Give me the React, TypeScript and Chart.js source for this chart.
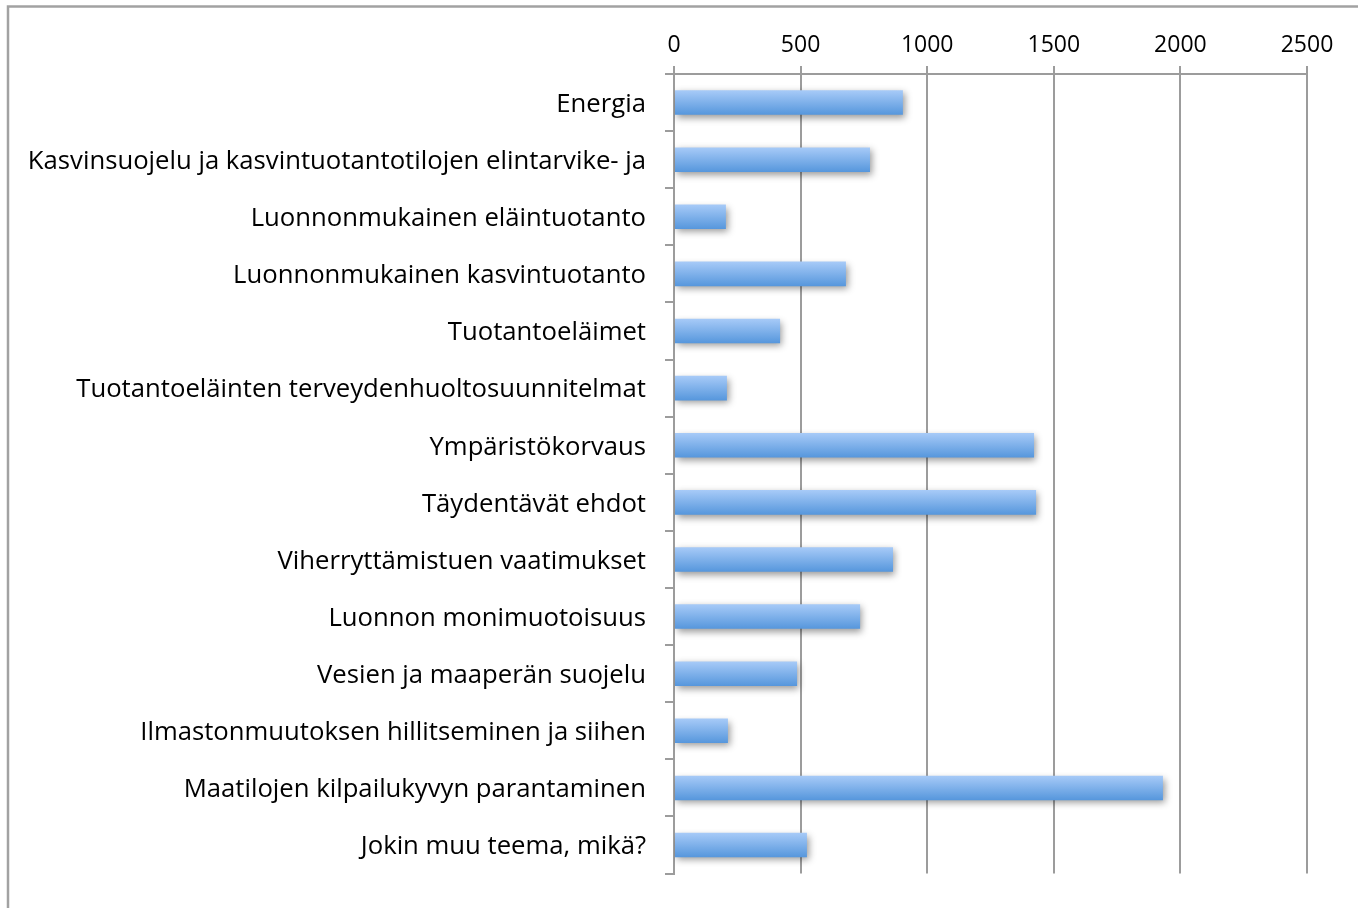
import React, { useEffect, useRef } from "react";
import { Chart, registerables } from "chart.js";

Chart.register(...registerables);

const categories: string[] = [
  "Energia",
  "Kasvinsuojelu ja kasvintuotantotilojen elintarvike- ja",
  "Luonnonmukainen eläintuotanto",
  "Luonnonmukainen kasvintuotanto",
  "Tuotantoeläimet",
  "Tuotantoeläinten terveydenhuoltosuunnitelmat",
  "Ympäristökorvaus",
  "Täydentävät ehdot",
  "Viherryttämistuen vaatimukset",
  "Luonnon monimuotoisuus",
  "Vesien ja maaperän suojelu",
  "Ilmastonmuutoksen hillitseminen ja siihen",
  "Maatilojen kilpailukyvyn parantaminen",
  "Jokin muu teema, mikä?",
];

const values: number[] = [904, 774, 205, 679, 419, 209, 1422, 1430, 865, 735, 486, 213, 1931, 525];

const xMin = 0;
const xMax = 2500;
const xStep = 500;

const FONT = "'Open Sans', 'DejaVu Sans', sans-serif";
const GRID = "#9c9c9c";

const framePlugin = {
  id: "frame",
  beforeDraw(chart: any) {
    const ctx = chart.ctx;
    ctx.save();
    ctx.strokeStyle = "#a2a2a2";
    ctx.lineWidth = 2.5;
    ctx.beginPath();
    ctx.moveTo(8, chart.height);
    ctx.lineTo(8, 6.5);
    ctx.lineTo(chart.width, 6.5);
    ctx.stroke();
    ctx.restore();
  },
};

const shadowPlugin = {
  id: "barShadow",
  beforeDatasetsDraw(chart: any) {
    const ctx = chart.ctx;
    ctx.save();
    ctx.shadowColor = "rgba(0,0,0,0.4)";
    ctx.shadowBlur = 7;
    ctx.shadowOffsetX = 2;
    ctx.shadowOffsetY = 3;
  },
  afterDatasetsDraw(chart: any) {
    chart.ctx.restore();
  },
};

export default function App() {
  const ref = useRef<HTMLCanvasElement | null>(null);

  useEffect(() => {
    const prevMargin = document.body.style.margin;
    document.body.style.margin = "0";
    const canvas = ref.current!;
    const chart = new Chart(canvas, {
      type: "bar",
      data: {
        labels: categories,
        datasets: [
          {
            data: values,
            borderWidth: 0,
            barPercentage: 0.43,
            categoryPercentage: 1,
            backgroundColor: (c: any) => {
              const ch = c.chart;
              const ys = ch.scales && ch.scales.y;
              if (!ys || c.dataIndex === undefined) return "#7fb2ee";
              const y = ys.getPixelForValue(c.dataIndex);
              if (!Number.isFinite(y)) return "#7fb2ee";
              const h = 12.5;
              const g = ch.ctx.createLinearGradient(0, y - h, 0, y + h);
              g.addColorStop(0, "#a8cbf8");
              g.addColorStop(1, "#5596dc");
              return g;
            },
          },
        ],
      },
      options: {
        indexAxis: "y",
        responsive: false,
        animation: false,
        layout: { padding: { left: 0, right: 51, top: 1, bottom: 29 } },
        plugins: {
          legend: { display: false },
          tooltip: { enabled: false },
        },
        scales: {
          x: {
            position: "top",
            min: xMin,
            max: xMax,
            ticks: {
              stepSize: xStep,
              color: "#000",
              padding: 7,
              font: { family: FONT, size: 23 },
              callback: (v: any) => String(v),
            },
            grid: {
              color: GRID,
              lineWidth: 2,
              drawTicks: true,
              tickLength: 8,
            },
            border: { display: true, color: GRID, width: 2 },
            afterFit: (s: any) => {
              s.height = 73;
            },
          },
          y: {
            ticks: {
              color: "#000",
              padding: 19,
              labelOffset: 2,
              font: { family: FONT, size: 25.7 },
              autoSkip: false,
            },
            grid: {
              offset: true,
              drawOnChartArea: false,
              drawTicks: true,
              tickLength: 9,
              color: GRID,
              lineWidth: 2,
            },
            border: { display: true, color: GRID, width: 2 },
            afterFit: (s: any) => {
              s.width = 674;
            },
          },
        },
      },
      plugins: [framePlugin, shadowPlugin],
    } as any);
    return () => {
      chart.destroy();
      document.body.style.margin = prevMargin;
    };
  }, []);

  return (
    <div style={{ position: "absolute", left: 0, top: 0, width: 1358, height: 908, background: "#fff" }}>
      <canvas ref={ref} width={1358} height={908} style={{ display: "block" }} />
    </div>
  );
}
